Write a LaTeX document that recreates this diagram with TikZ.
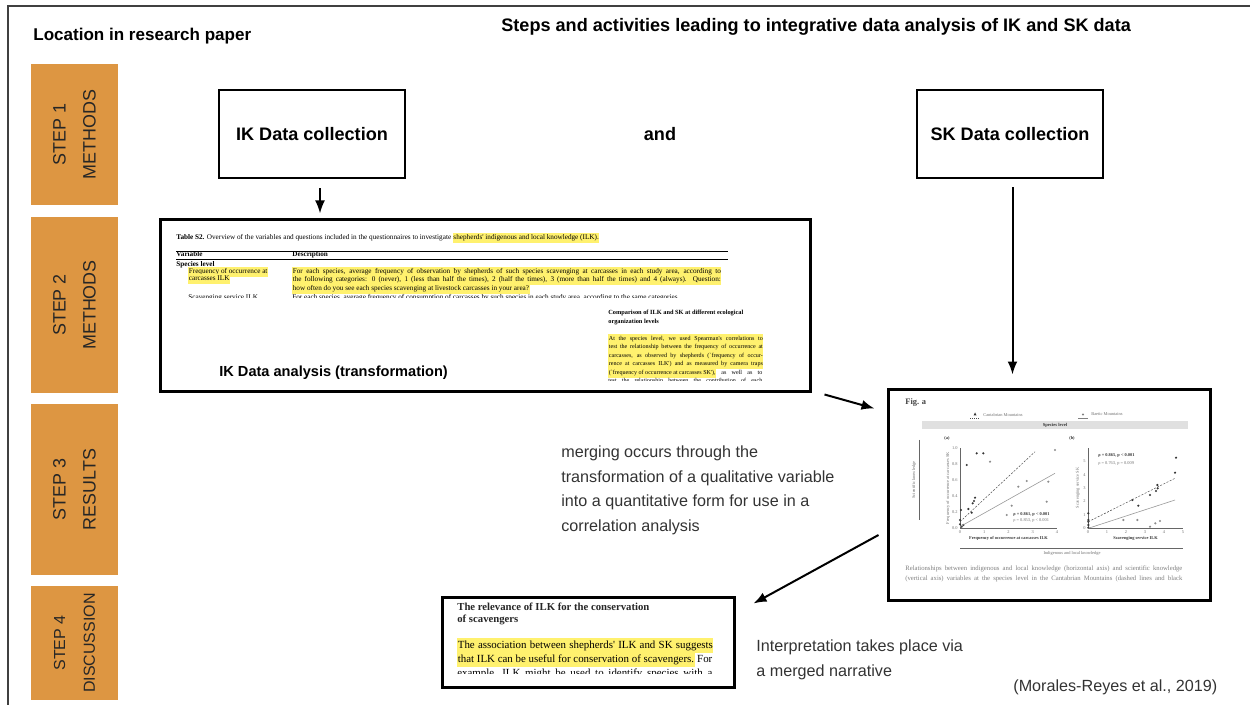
\documentclass[tikz,border=0pt]{standalone}
\usepackage{fontspec}
\setmainfont{Liberation Sans}
\newfontfamily\paperfont{Liberation Serif}
\usepackage{tikz}
\usetikzlibrary{positioning}
\usetikzlibrary{arrows.meta}
\tikzset{>=latex}
\usepackage{xcolor}
\definecolor{steporange}{RGB}{221,150,66}
\definecolor{hilite}{RGB}{255,241,110}
\colorlet{notegray}{black!80}
\colorlet{figgray}{black!55}
\newlength{\pxl}\setlength{\pxl}{0.02cm}
\newcommand{\hlt}[1]{{\setlength{\fboxsep}{0.3pt}\colorbox{hilite}{\strut #1}}}
\tikzstyle{stepbox}=[rectangle, fill=steporange, rotate=90, align=center, minimum height=87\pxl, inner sep=0pt, text=black!85, font=\fontsize{10.2}{17}\selectfont]
\tikzstyle{collect}=[rectangle, draw=black, line width=2\pxl, minimum width=186\pxl, minimum height=88\pxl, font=\bfseries\fontsize{10.3}{12}\selectfont]
\tikzstyle{shot}=[rectangle, draw=black, line width=3\pxl, fill=white, inner sep=0pt]
\tikzstyle{heading}=[inner sep=0pt, anchor=base west, font=\bfseries\fontsize{10.3}{12}\selectfont]
\tikzstyle{notetext}=[inner sep=0pt, anchor=north west, align=left, text=notegray, font=\fontsize{9.2}{14.2}\selectfont]
\tikzstyle{papertext}=[inner sep=0pt, anchor=base west, font=\paperfont\fontsize{4.1}{5}\selectfont]
\tikzstyle{paperbold}=[papertext, font=\paperfont\bfseries\fontsize{4.1}{5}\selectfont]
\tikzstyle{colpara}=[papertext, font=\paperfont\fontsize{3.45}{4.8}\selectfont]
\tikzstyle{relpara}=[papertext, font=\paperfont\fontsize{6.2}{8}\selectfont]
\tikzstyle{figtxt}=[inner sep=0pt, text=figgray, font=\paperfont\fontsize{2.5}{3}\selectfont]
\tikzstyle{figbold}=[figtxt, text=black!80, font=\paperfont\bfseries\fontsize{2.5}{3}\selectfont]
\tikzstyle{figcap}=[inner sep=0pt, anchor=base west, text=black!50, font=\paperfont\fontsize{3.8}{4.5}\selectfont]
\tikzstyle{connect arrow}=[-{Latex[length=0.26cm,width=0.2cm]}, line width=0.04cm, black]

\begin{document}
\begin{tikzpicture}[x=0.02cm, y=-0.02cm]
\useasboundingbox (0,0) rectangle (1250,705);
\draw[line width=1.5\pxl, black!75] (8,705) -- (8,6) -- (1250,6);

\node[heading, font=\bfseries\fontsize{9.7}{12}\selectfont] (loc) at (33,41) {Location in research paper};
\node[heading] (title) at (501,32) {Steps and activities leading to integrative data analysis of IK and SK data};

% steps of the paper
\node[stepbox, minimum width=141\pxl] (step1) at (74.5,134.5) {STEP 1\\METHODS};
\node[stepbox, minimum width=176\pxl] (step2) at (74.5,305) {STEP 2\\METHODS};
\node[stepbox, minimum width=171\pxl] (step3) at (74.5,489.5) {STEP 3\\RESULTS};
\node[stepbox, minimum width=114\pxl, font=\fontsize{9.1}{17}\selectfont] (step4) at (74.5,643) {STEP 4\\DISCUSSION};

% data collection
\node[collect] (ikcol) at (312,134.5) {IK Data collection};
\node[collect] (skcol) at (1010,134.5) {SK Data collection};
\node[heading, anchor=center] (andtxt) at (660,134) {and};

% IK data analysis screenshot
\node[shot, minimum width=650\pxl, minimum height=172\pxl] (ikana) at (485,306) {};
\begin{scope}
\clip (165,225) rectangle (805,297.5);
\node[papertext] (tcap) at (176,239.5) {\textbf{Table S2.} Overview of the variables and questions included in the questionnaires to investigate \hlt{shepherds' indigenous and local knowledge (ILK).}};
\draw[line width=0.8\pxl] (176,251) -- (728,251);
\node[paperbold] (tvar) at (176,257) {Variable};
\node[paperbold] (tdsc) at (292,257) {Description};
\draw[line width=0.6\pxl] (176,259.5) -- (728,259.5);
\node[paperbold] (tspec) at (176,266.5) {Species level};
\node[papertext] (tfreq1) at (188,273.5) {\hlt{Frequency of occurrence at}};
\node[papertext] (tfreq2) at (188,281) {\hlt{carcasses ILK}};
\node[papertext] (tdesc1) at (292,273.5) {\hlt{\makebox[428\pxl][s]{For each species, average frequency of observation by shepherds of such species scavenging at carcasses in each study area, according to}}};
\node[papertext] (tdesc2) at (292,282) {\hlt{\makebox[428\pxl][s]{the following categories: 0 (never), 1 (less than half the times), 2 (half the times), 3 (more than half the times) and 4 (always). Question:}}};
\node[papertext] (tdesc3) at (292,290.5) {\hlt{how often do you see each species scavenging at livestock carcasses in your area?}};
\node[papertext] (tcut1) at (188,300) {Scavenging service ILK};
\node[papertext] (tcut2) at (292,300) {For each species, average frequency of consumption of carcasses by such species in each study area, according to the same categories};
\end{scope}
\node[paperbold, font=\paperfont\bfseries\fontsize{3.6}{4.8}\selectfont] (cmp1) at (608,314.5) {Comparison of ILK and SK at different ecological};
\node[paperbold, font=\paperfont\bfseries\fontsize{3.6}{4.8}\selectfont] (cmp2) at (608,323.5) {organization levels};
\begin{scope}
\clip (600,330) rectangle (805,381);
\node[colpara] (cp1) at (608,340.5) {\hlt{\makebox[154\pxl][s]{At the species level, we used Spearman's correlations to}}};
\node[colpara] (cp2) at (608,349) {\hlt{\makebox[154\pxl][s]{test the relationship between the frequency of occurrence at}}};
\node[colpara] (cp3) at (608,357.5) {\hlt{\makebox[154\pxl][s]{carcasses, as observed by shepherds (`frequency of occur-}}};
\node[colpara] (cp4) at (608,366) {\hlt{\makebox[154\pxl][s]{rence at carcasses ILK') and as measured by camera traps}}};
\node[colpara] (cp5) at (608,374.5) {\makebox[154\pxl][s]{\hlt{(`frequency of occurrence at carcasses SK'),} as well as to}};
\node[colpara] (cp6) at (608,383) {\makebox[154\pxl][s]{test the relationship between the contribution of each}};
\end{scope}
\node[heading, font=\bfseries\fontsize{8.3}{10}\selectfont] (anatxt) at (219,377) {IK Data analysis (transformation)};

% figure screenshot
\node[shot, minimum width=322\pxl, minimum height=210\pxl] (figbox) at (1049,495) {};
\node[inner sep=0pt, anchor=base west, text=black!75, font=\paperfont\bfseries\fontsize{4.8}{5.5}\selectfont] (figlab) at (905,405) {Fig. a};
\draw[black!70, line width=0.5\pxl, dash pattern=on 1\pxl off 1\pxl] (970,418) -- (980,418);
\fill[black!80] (975,412.5) -- (976.5,415.5) -- (973.5,415.5) -- cycle;
\node[figtxt, anchor=west] (legc) at (983,414.5) {Cantabrian Mountains};
\draw[black!50, line width=0.5\pxl] (1078,418) -- (1088,418);
\fill[black!50] (1083,414.5) circle [radius=1.2\pxl];
\node[figtxt, anchor=west] (legb) at (1091,414.5) {Baetic Mountains};
\node[fill=black!12, minimum width=266\pxl, minimum height=8\pxl, inner sep=0pt, text=black!80, font=\paperfont\bfseries\fontsize{2.6}{3}\selectfont] (sbar) at (1055,425.5) {Species level};
\node[figbold] (plta) at (947,438) {(a)};
\node[figbold] (pltb) at (1072,438) {(b)};
\draw[black!60, line width=0.5\pxl] (919,440) -- (919,520);
\node[figtxt, rotate=90] (sklab) at (914,480) {Scientific knowledge};
\draw[black!60, line width=0.5\pxl] (960,548) -- (1183,548);
\node[figtxt] (iklab) at (1072,553) {Indigenous and local knowledge};

\begin{scope}[shift={(960,528)}]
\draw[black!60, line width=0.5\pxl] (0,-80) -- (0,0) -- (97,0);
\foreach \k/\lab in {0/0.0,1/0.2,2/0.4,3/0.6,4/0.8,5/1.0}
    \node[figtxt, anchor=east] (ay\k) at (-2,-16*\k) {\lab};
\foreach \k in {0,...,4}
    \node[figtxt, anchor=north] (ax\k) at (24.25*\k,2) {\k};
\foreach \a/\b in {0/-3.7,0/-8,1.7/-1.3,3.3/-3,1/-18,8.3/-19,6.7/-63,12.7/-24.7,14/-27,11.7/-15.3,15/-30.3,16.7/-74.7,23.3/-74.7}
    \fill[black!80] (\a,\b) circle [radius=1.2\pxl];
\foreach \a/\b in {30/-66.3,46.7/-13,51.7/-22.3,58.3/-41.3,66.7/-47,86.7/-26.3,88.3/-46.3,95/-78}
    \fill[black!45] (\a,\b) circle [radius=1.2\pxl];
\draw[black!70, line width=0.5\pxl, dash pattern=on 2\pxl off 1.5\pxl] (0,-6.3) -- (75,-76.3);
\draw[black!40, line width=0.6\pxl] (0,-1.3) -- (95,-54.7);
\node[figbold, anchor=base west] (ast1) at (53,-13) {ρ = 0.861, p < 0.001};
\node[figtxt, anchor=base west] (ast2) at (53,-7) {ρ = 0.853, p < 0.001};
\node[figtxt, rotate=90] (aylab) at (-12,-40) {Frequency of occurrence at carcasses SK};
\node[figbold] (axlab) at (48.5,10) {Frequency of occurrence at carcasses ILK};
\end{scope}

\begin{scope}[shift={(1088,528)}]
\draw[black!60, line width=0.5\pxl] (0,-80) -- (0,0) -- (95,0);
\foreach \k in {0,...,5}
    \node[figtxt, anchor=east] (by\k) at (-2,-13.3*\k) {\k};
\foreach \k in {0,...,5}
    \node[figtxt, anchor=north] (bx\k) at (19*\k,2) {\k};
\foreach \a/\b in {0.3/-14.7,0.3/-8,0.3/-6.3,0.3/-3,0.3/-0.3,44.3/-28,50.3/-22.3,62/-33,68/-37,69.3/-43,69.7/-39.7,87/-55.3,88/-70.3}
    \fill[black!80] (\a,\b) circle [radius=1.2\pxl];
\foreach \a/\b in {35.3/-8,49.3/-8,62/-1.3,67.3/-4.7,72/-7}
    \fill[black!45] (\a,\b) circle [radius=1.2\pxl];
\draw[black!70, line width=0.5\pxl, dash pattern=on 2\pxl off 1.5\pxl] (0.3,-6.3) -- (87,-49.7);
\draw[black!40, line width=0.6\pxl] (0.3,0.3) -- (87,-28);
\node[figbold, anchor=base west] (bst1) at (10,-71) {ρ = 0.865, p < 0.001};
\node[figtxt, anchor=base west] (bst2) at (10,-64) {ρ = 0.763, p = 0.009};
\node[figtxt, rotate=90] (bylab) at (-10,-40) {Scavenging service SK};
\node[figbold] (bxlab) at (47.5,10) {Scavenging service ILK};
\end{scope}
\node[figcap] (fcap1) at (905,570) {\makebox[277\pxl][s]{Relationships between indigenous and local knowledge (horizontal axis) and scientific knowledge}};
\node[figcap] (fcap2) at (905,580) {\makebox[277\pxl][s]{(vertical axis) variables at the species level in the Cantabrian Mountains (dashed lines and black}};

% discussion screenshot
\node[shot, minimum width=292\pxl, minimum height=90\pxl] (relbox) at (588,642) {};
\begin{scope}
\clip (444,599) rectangle (732,673.5);
\node[relpara, font=\paperfont\bfseries\fontsize{6.1}{8}\selectfont, text=black!85] (rtit1) at (457,610) {The relevance of ILK for the conservation};
\node[relpara, font=\paperfont\bfseries\fontsize{6.1}{8}\selectfont, text=black!85] (rtit2) at (457,622) {of scavengers};
\node[relpara] (rpar1) at (457,648) {\hlt{\makebox[255\pxl][s]{The association between shepherds' ILK and SK suggests}}};
\node[relpara] (rpar2) at (457,662) {\makebox[255\pxl][s]{\hlt{that ILK can be useful for conservation of scavengers.} For}};
\node[relpara] (rpar3) at (457,676) {\makebox[255\pxl][s]{example, ILK might be used to identify species with a}};
\end{scope}

% explanations
\node[notetext] (merge) at (561,445) {merging occurs through the\\transformation of a qualitative variable\\into a quantitative form for use in a\\correlation analysis};
\node[notetext] (interp) at (756,639) {Interpretation takes place via\\a merged narrative};
\node[notetext, anchor=base west] (cite) at (1013,691) {(Morales-Reyes et al., 2019)};

\begin{scope}[connect arrow]
    \draw[shorten <=0.18cm, shorten >=0.1cm] ([xshift=8\pxl]ikcol.south) to ([xshift=8\pxl]ikcol.south |- ikana.north);
    \draw[shorten <=0.16cm, shorten >=0.28cm] ([xshift=2.5\pxl]skcol.south) to ([xshift=2.5\pxl]skcol.south |- figbox.north);
    \draw ([xshift=13\pxl,yshift=-1\pxl]ikana.south east) to ([xshift=-12\pxl,yshift=-20\pxl]figbox.north west);
    \draw ([xshift=-8\pxl,yshift=-40\pxl]figbox.west) to ([xshift=18\pxl,yshift=-8\pxl]relbox.north east);
\end{scope}

\end{tikzpicture}
\end{document}
